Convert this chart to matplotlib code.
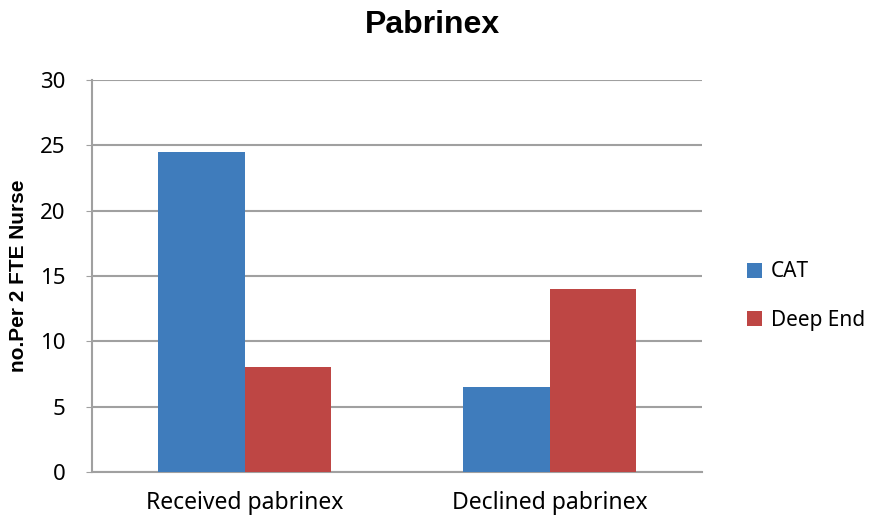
import numpy as np
import matplotlib.pyplot as plt

plt.rcParams['font.family'] = ['Noto Sans', 'DejaVu Sans']
BOLD = ['Liberation Sans', 'DejaVu Sans']

categories = ['Received pabrinex', 'Declined pabrinex']
cat_values = [24.5, 6.5]
deep_end_values = [8, 14]
series_names = ['CAT', 'Deep End']
colors = ['#3F7CBC', '#BE4644']

fig = plt.figure(figsize=(8.7, 5.19), dpi=100)
ax = fig.add_axes([92 / 870, 1 - 472 / 519, 610 / 870, 392 / 519])

x = np.arange(len(categories))
w = 0.285
ax.bar(x - w / 2, cat_values, w, color=colors[0], label=series_names[0], zorder=3)
ax.bar(x + w / 2, deep_end_values, w, color=colors[1], label=series_names[1], zorder=3)

ax.set_xlim(-0.5, 1.5)
ax.set_ylim(0, 30)
ax.set_yticks(range(0, 31, 5))
ax.set_xticks(x)
ax.set_xticklabels(categories, fontsize=16.5)
ax.tick_params(axis='y', labelsize=16, length=4, color='#A0A0A0', pad=15)
ax.tick_params(axis='x', length=0, pad=14)
ax.yaxis.grid(True, color='#A0A0A0', linewidth=1.5, zorder=0)

for side in ['top', 'right']:
    ax.spines[side].set_visible(False)
for side in ['left', 'bottom']:
    ax.spines[side].set_color('#A0A0A0')
    ax.spines[side].set_linewidth(1.5)

ax.set_ylabel('no.Per 2 FTE Nurse', fontsize=15, fontweight='bold', family=BOLD)
ax.yaxis.set_label_coords(19 / 870, 1 - 276 / 519, transform=fig.transFigure)
ax.yaxis.label.set_va('center')
fig.text(432 / 870, 1 - 25 / 519, 'Pabrinex', fontsize=23, fontweight='bold',
         family=BOLD, ha='center', va='center')

fig.legend(loc='center left', bbox_to_anchor=(728 / 870, 1 - 296 / 519),
           frameon=False, fontsize=15, handlelength=0.75, handleheight=0.75,
           labelspacing=1.3, handletextpad=0.4)

fig.savefig('out.png', dpi=100)
